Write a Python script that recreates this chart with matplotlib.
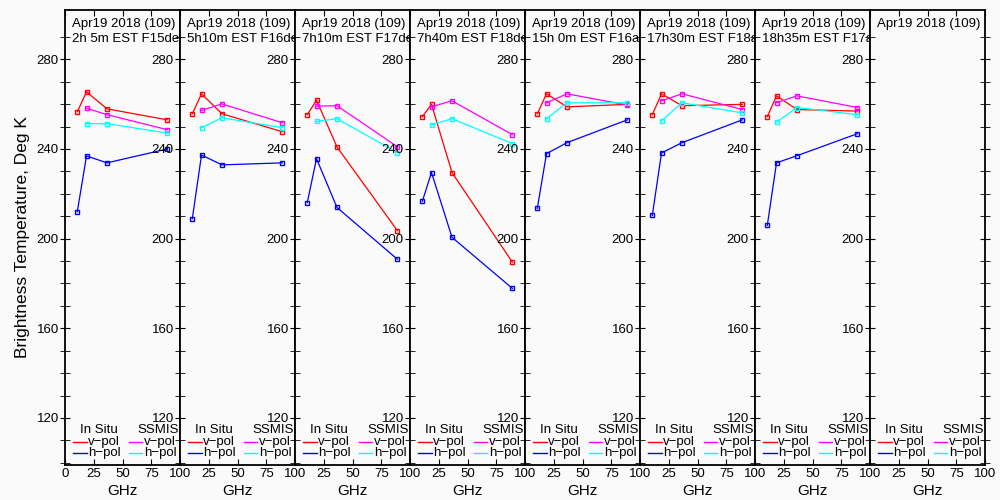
import numpy as np
import matplotlib
matplotlib.use('Agg')
import matplotlib.pyplot as plt
from matplotlib.lines import Line2D

plt.rcParams['font.family'] = ['Liberation Sans', 'DejaVu Sans']

# frequencies (GHz)
insitu_freq = [10.7, 18.7, 36.5, 89.0]
ssmis_freq = [18.7, 36.5, 89.0]

date_label = 'Apr19 2018 (109)'
pass_labels = ['2h 5m EST F15desc', '5h10m EST F16desc', '7h10m EST F17desc',
               '7h40m EST F18desc', '15h 0m EST F16asc', '17h30m EST F18asc',
               '18h35m EST F17asc', '']

# in situ v-pol / h-pol
insitu_v = [[256.6, 265.5, 257.9, 253.0],
            [255.7, 264.6, 255.7, 247.7],
            [255.3, 261.8, 240.9, 203.6],
            [254.4, 259.9, 229.5, 189.5],
            [255.7, 264.6, 258.8, 259.9],
            [255.3, 264.6, 259.3, 259.9],
            [254.4, 263.7, 257.6, 256.9],
            None]
insitu_h = [[212.0, 236.9, 233.8, 240.0],
            [208.9, 237.3, 232.9, 233.8],
            [216.1, 235.7, 213.9, 190.8],
            [216.6, 229.5, 200.6, 177.8],
            [213.5, 237.9, 242.8, 253.0],
            [210.4, 238.2, 242.8, 253.0],
            [205.9, 233.8, 237.0, 246.8],
            None]
# SSMIS v-pol / h-pol
ssmis_v = [[258.2, 255.3, 248.6],
           [257.2, 260.1, 251.7],
           [259.1, 259.3, 241.0],
           [258.8, 261.5, 246.4],
           [260.6, 264.6, 259.6],
           [261.5, 264.6, 257.6],
           [260.6, 263.7, 258.5],
           None]
ssmis_h = [[251.3, 251.3, 247.1],
           [249.5, 253.9, 249.5],
           [252.3, 253.5, 238.4],
           [250.8, 253.5, 242.4],
           [253.5, 260.6, 260.6],
           [252.6, 260.6, 256.1],
           [252.0, 258.5, 255.3],
           None]

xlim = (0, 100)
ylim = (99, 302)
bg = '#fafafa'
fs = 9.5

fig = plt.figure(figsize=(10, 5), dpi=100, facecolor=bg)
npan = len(pass_labels)
left0 = 65/1000.
pw = 115/1000.
bottom = 35/500.
ph = 455/500.

for i in range(npan):
    ax = fig.add_axes([left0 + i*pw, bottom, pw, ph], facecolor=bg)
    ax.set_xlim(xlim)
    ax.set_ylim(ylim)
    if insitu_v[i] is not None:
        ax.plot(insitu_freq, insitu_v[i], color='red', lw=0.9,
                marker='s', ms=3.5, mfc='none', mew=1.0)
        ax.plot(insitu_freq, insitu_h[i], color='blue', lw=0.9,
                marker='s', ms=3.5, mfc='none', mew=1.0)
        ax.plot(ssmis_freq, ssmis_v[i], color='magenta', lw=0.9,
                marker='s', ms=3.5, mfc='none', mew=1.0)
        ax.plot(ssmis_freq, ssmis_h[i], color='cyan', lw=0.9,
                marker='s', ms=3.5, mfc='none', mew=1.0)

    # header text, clipped to panel
    ax.text(0.06, 0.969, date_label, transform=ax.transAxes, fontsize=fs,
            va='center', ha='left', clip_on=True)
    ax.text(0.06, 0.936, pass_labels[i], transform=ax.transAxes, fontsize=fs,
            va='center', ha='left', clip_on=True)

    # legend block
    ax.text(0.13, 0.076, 'In Situ', transform=ax.transAxes, fontsize=fs, va='center')
    ax.text(0.63, 0.076, 'SSMIS', transform=ax.transAxes, fontsize=fs, va='center')
    for yy, lab, c1, c2 in [(0.050, 'v\u2212pol', 'red', 'magenta'),
                            (0.026, 'h\u2212pol', 'blue', 'cyan')]:
        ax.add_line(Line2D([0.07, 0.19], [yy, yy], transform=ax.transAxes, color=c1, lw=1))
        ax.text(0.20, yy, lab, transform=ax.transAxes, fontsize=fs, va='center')
        ax.add_line(Line2D([0.557, 0.67], [yy, yy], transform=ax.transAxes, color=c2, lw=1))
        ax.text(0.685, yy, lab, transform=ax.transAxes, fontsize=fs, va='center')

    ax.set_xticks([0, 25, 50, 75, 100])
    if i == 0:
        ax.set_xticklabels(['0', '25', '50', '75', '100'])
    else:
        ax.set_xticklabels(['', '25', '50', '75', '100'])
    ax.set_yticks([120, 160, 200, 240, 280])
    ax.set_yticks(np.arange(100, 300, 10), minor=True)
    ax.tick_params(axis='x', which='major', direction='in', length=4, top=True,
                   labelsize=fs, pad=2)
    ax.tick_params(axis='y', which='both', direction='inout', length=7,
                   right=(i == npan-1), labelsize=fs, pad=1)
    for sp in ax.spines.values():
        sp.set_linewidth(1.3)
    ax.set_xlabel('GHz', fontsize=11, labelpad=3)
    if i == 0:
        ax.set_ylabel('Brightness Temperature, Deg K', fontsize=12.5, labelpad=5)

plt.savefig('out.png', dpi=100, facecolor=bg)
plt.close()
